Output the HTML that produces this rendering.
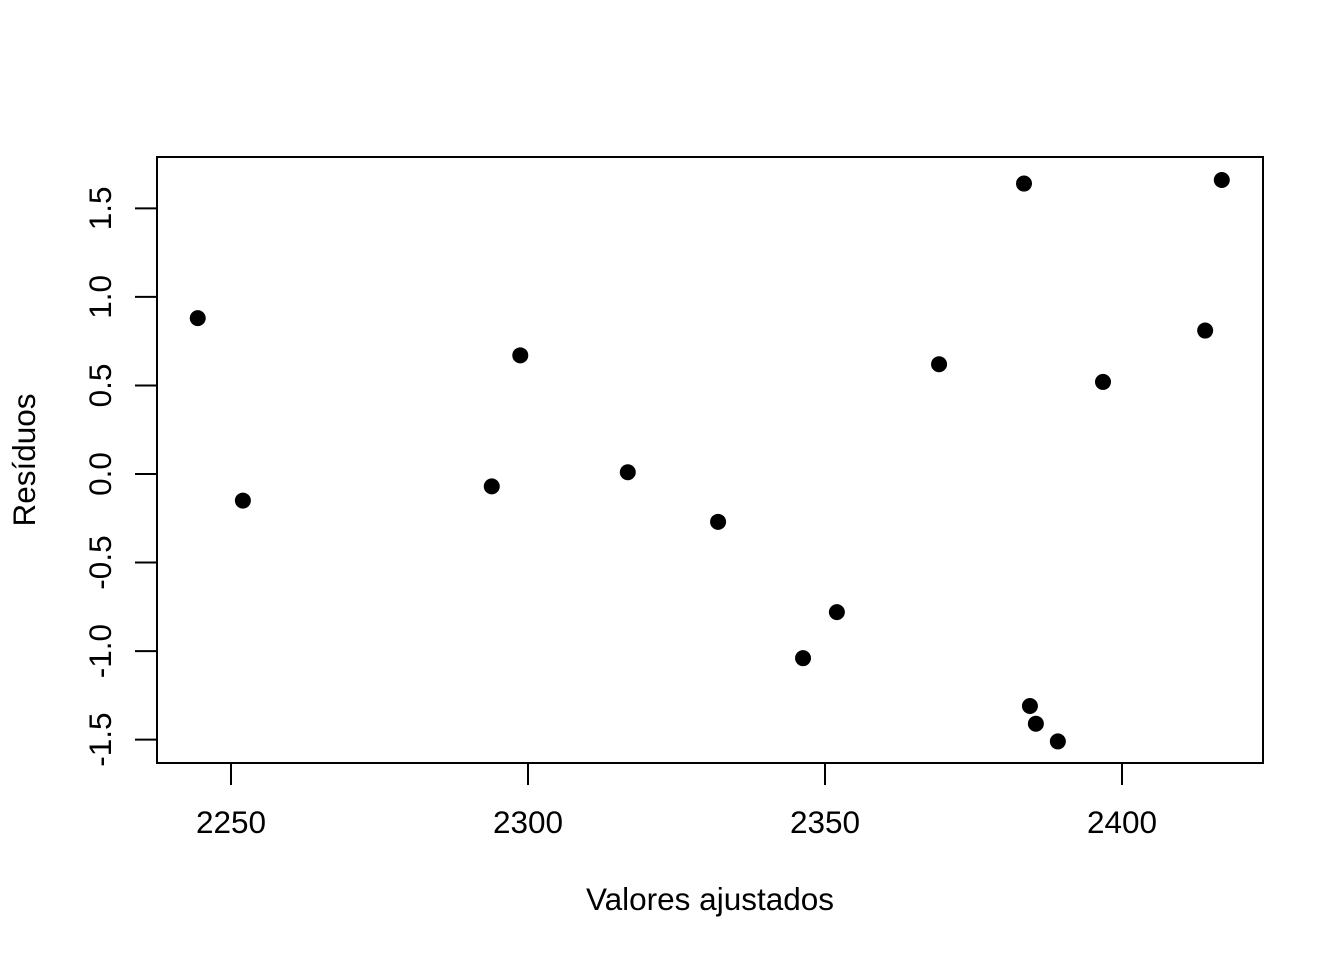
<!DOCTYPE html>
<html><head><meta charset="utf-8"><style>
body{margin:0;background:#fff}
svg{display:block;font-family:"Liberation Sans",Arial,sans-serif}
</style></head><body>
<svg id="chart" width="1344" height="960" viewBox="0 0 1344 960"></svg>
<script>
const xValues=[2244.4,2252.0,2293.9,2298.7,2316.8,2332.0,2346.3,2352.0,2369.2,2383.5,2384.5,2385.5,2389.2,2396.8,2414.0,2416.8];
const yValues=[0.88,-0.15,-0.07,0.67,0.01,-0.27,-1.04,-0.78,0.62,1.64,-1.31,-1.41,-1.51,0.52,0.81,1.66];
const xTicks=[2250,2300,2350,2400];
const yTicks=[-1.5,-1.0,-0.5,0.0,0.5,1.0,1.5];
const yTickLabels=["-1.5","-1.0","-0.5","0.0","0.5","1.0","1.5"];
const svg=document.getElementById('chart');
const NS='http://www.w3.org/2000/svg';
function X(v){return 231+(v-2250)*5.94;}
function Y(v){return 474-v*177.1;}
function mk(t,a,p){const e=document.createElementNS(NS,t);for(const k in a)e.setAttribute(k,a[k]);(p||svg).appendChild(e);return e;}
const box=mk('rect',{x:157,y:157,width:1106,height:606,fill:'none',stroke:'#000','stroke-width':2});


const xa=mk('g',{});


mk('line',{x1:X(xTicks[0]),x2:X(xTicks[xTicks.length-1]),y1:763,y2:763,stroke:'#000','stroke-width':2},xa);
xTicks.forEach(t=>{
  mk('line',{x1:X(t),x2:X(t),y1:763,y2:785,stroke:'#000','stroke-width':2},xa);
  const tx=mk('text',{x:X(t),y:833,'font-size':31.5,'text-anchor':'middle'},xa);
  tx.textContent=t;
  
  
});
const ya=mk('g',{});


mk('line',{x1:157,x2:157,y1:Y(yTicks[0]),y2:Y(yTicks[yTicks.length-1]),stroke:'#000','stroke-width':2},ya);
yTicks.forEach((t,i)=>{
  mk('line',{x1:135,x2:157,y1:Y(t),y2:Y(t),stroke:'#000','stroke-width':2},ya);
  const tx=mk('text',{x:0,y:0,'font-size':31.5,'text-anchor':'middle',transform:`translate(111,${Y(t)}) rotate(-90)`},ya);
  tx.textContent=yTickLabels[i];
  
  
});
const xt=mk('text',{x:710,y:910,'font-size':31.5,'text-anchor':'middle'});
xt.textContent='Valores ajustados';


const yt=mk('text',{x:0,y:0,'font-size':31.5,'text-anchor':'middle',transform:'translate(35,460) rotate(-90)'});
yt.textContent='Resíduos';


xValues.forEach((v,i)=>{
  const c=mk('circle',{cx:X(v),cy:Y(yValues[i]),r:8,fill:'#000'});
  
  
});
</script>
</body></html>
